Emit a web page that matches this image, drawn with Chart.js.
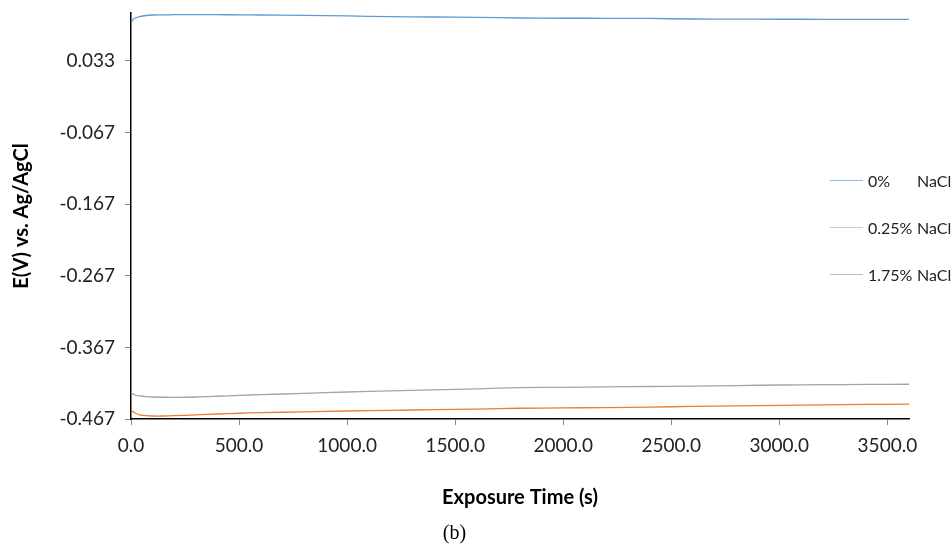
<!DOCTYPE html>
<html>
<head>
<meta charset="utf-8">
<script src="https://cdn.jsdelivr.net/npm/chart.js@4.4.1/dist/chart.umd.min.js"></script>
<style>
html,body{margin:0;padding:0;background:#fff;}
#wrap{position:relative;width:951px;height:548px;}
#legend{position:absolute;left:830px;top:0;font-family:Lato,"Open Sans",sans-serif;font-size:16px;color:#222;}
#legend .row{position:absolute;left:0;height:20px;white-space:nowrap;display:flex;align-items:center;}
#legend .ln{display:inline-block;width:33px;height:1px;margin-right:5px;}
#legend .pc{display:inline-block;width:49px;}
</style>
</head>
<body>
<div id="wrap">
<canvas id="c" width="951" height="548"></canvas>
<div id="legend"></div>
</div>
<script>
// exposure time (s)
var times=[0,10,20,40,70,100,150,200,300,400,500,600,800,1000,1200,1400,1600,1800,2000,2200,2400,2600,2800,3000,3200,3400,3600];
// E(V) vs Ag/AgCl
var nacl0=[0.086,0.091,0.093,0.095,0.0965,0.0972,0.0974,0.0976,0.0977,0.0976,0.0975,0.0972,0.0968,0.096,0.0948,0.0944,0.094,0.093,0.0927,0.0926,0.0924,0.0916,0.0914,0.0913,0.0912,0.0911,0.091];
var nacl025=[-0.4307,-0.4322,-0.4335,-0.4348,-0.4358,-0.4363,-0.4366,-0.4367,-0.4363,-0.4352,-0.4340,-0.4330,-0.4312,-0.4293,-0.4278,-0.4262,-0.4248,-0.4233,-0.4227,-0.4222,-0.4216,-0.4210,-0.4203,-0.4195,-0.4191,-0.4187,-0.4185];
var nacl175=[-0.4544,-0.4570,-0.4590,-0.4612,-0.4624,-0.4628,-0.4628,-0.4624,-0.4612,-0.4600,-0.4590,-0.4582,-0.4570,-0.4558,-0.4549,-0.4540,-0.4531,-0.4520,-0.4516,-0.4510,-0.4503,-0.4495,-0.4487,-0.4479,-0.4472,-0.4467,-0.4463];
var seriesNames=['0%','0.25%','1.75%'];
var yTicks=[-0.467,-0.367,-0.267,-0.167,-0.067,0.033];
var xTicks=[0,500,1000,1500,2000,2500,3000,3500];

var lineCols=['#5b9bd5','#a5a5a5','#ed7d31'];
var legendCols=['#8dbbe3','#c8c8c8','#bdbdbd'];

function pts(arr){
  var out=[];
  for(let i=0;i<times.length;i++){ out.push({x:times[i],y:arr[i]}); }
  return out;
}
var all=[nacl0,nacl025,nacl175];
var sets=[];
for(let i=0;i<all.length;i++){
  sets.push({label:seriesNames[i]+' NaCl',data:pts(all[i]),borderColor:lineCols[i],borderWidth:1.3,pointRadius:0,tension:0.3,fill:false});
}

// html legend
var lg=document.getElementById('legend');
var rowTop=[170,217,264];
for(let i=0;i<seriesNames.length;i++){
  var r=document.createElement('div');
  r.className='row';
  r.style.top=rowTop[i]+'px';
  r.innerHTML='<span class="ln" style="background:'+legendCols[i]+'"></span><span class="pc">'+seriesNames[i]+'</span><span>NaCl</span>';
  lg.appendChild(r);
}

var font='Lato, "Open Sans", sans-serif';
Chart.defaults.font.family=font;
Chart.defaults.color='#222';

new Chart(document.getElementById('c'),{
  type:'line',
  data:{datasets:sets},
  options:{
    responsive:false,
    animation:false,
    layout:{padding:{top:13,right:42,left:0,bottom:0}},
    plugins:{
      legend:{display:false},
      tooltip:{enabled:false},
      title:{display:true,position:'bottom',text:'(b)',color:'#000',
        font:{family:'"Liberation Serif", serif',size:20,weight:'normal'},padding:{top:4,bottom:2}}
    },
    scales:{
      x:{type:'linear',min:0,max:3600,
        afterBuildTicks:function(s){s.ticks=xTicks.map(v=>({value:v}));},
        afterFit:function(s){s.height=99;s.paddingLeft=0;s.paddingRight=0;},
        ticks:{font:{size:19},padding:9,maxRotation:0,callback:v=>v.toFixed(1)},
        grid:{drawOnChartArea:false,color:'#888',tickLength:6},
        border:{display:true,color:'#000',width:1.5},
        title:{display:true,text:'Exposure Time (s)',color:'#000',font:{size:20,weight:'bold'},padding:{top:0,bottom:8}}
      },
      y:{type:'linear',min:-0.467,max:0.1,
        afterBuildTicks:function(s){s.ticks=yTicks.map(v=>({value:v}));},
        afterFit:function(s){s.width=131;s.paddingTop=0;s.paddingBottom=0;},
        ticks:{font:{size:19},padding:10,callback:v=>v.toFixed(3)},
        grid:{drawOnChartArea:false,color:'#888',tickLength:6},
        border:{display:true,color:'#000',width:1.5},
        title:{display:true,text:'E(V) vs. Ag/AgCl',color:'#000',font:{size:20,weight:'bold'},padding:{top:10,bottom:0}}
      }
    }
  }
});
</script>
</body>
</html>
